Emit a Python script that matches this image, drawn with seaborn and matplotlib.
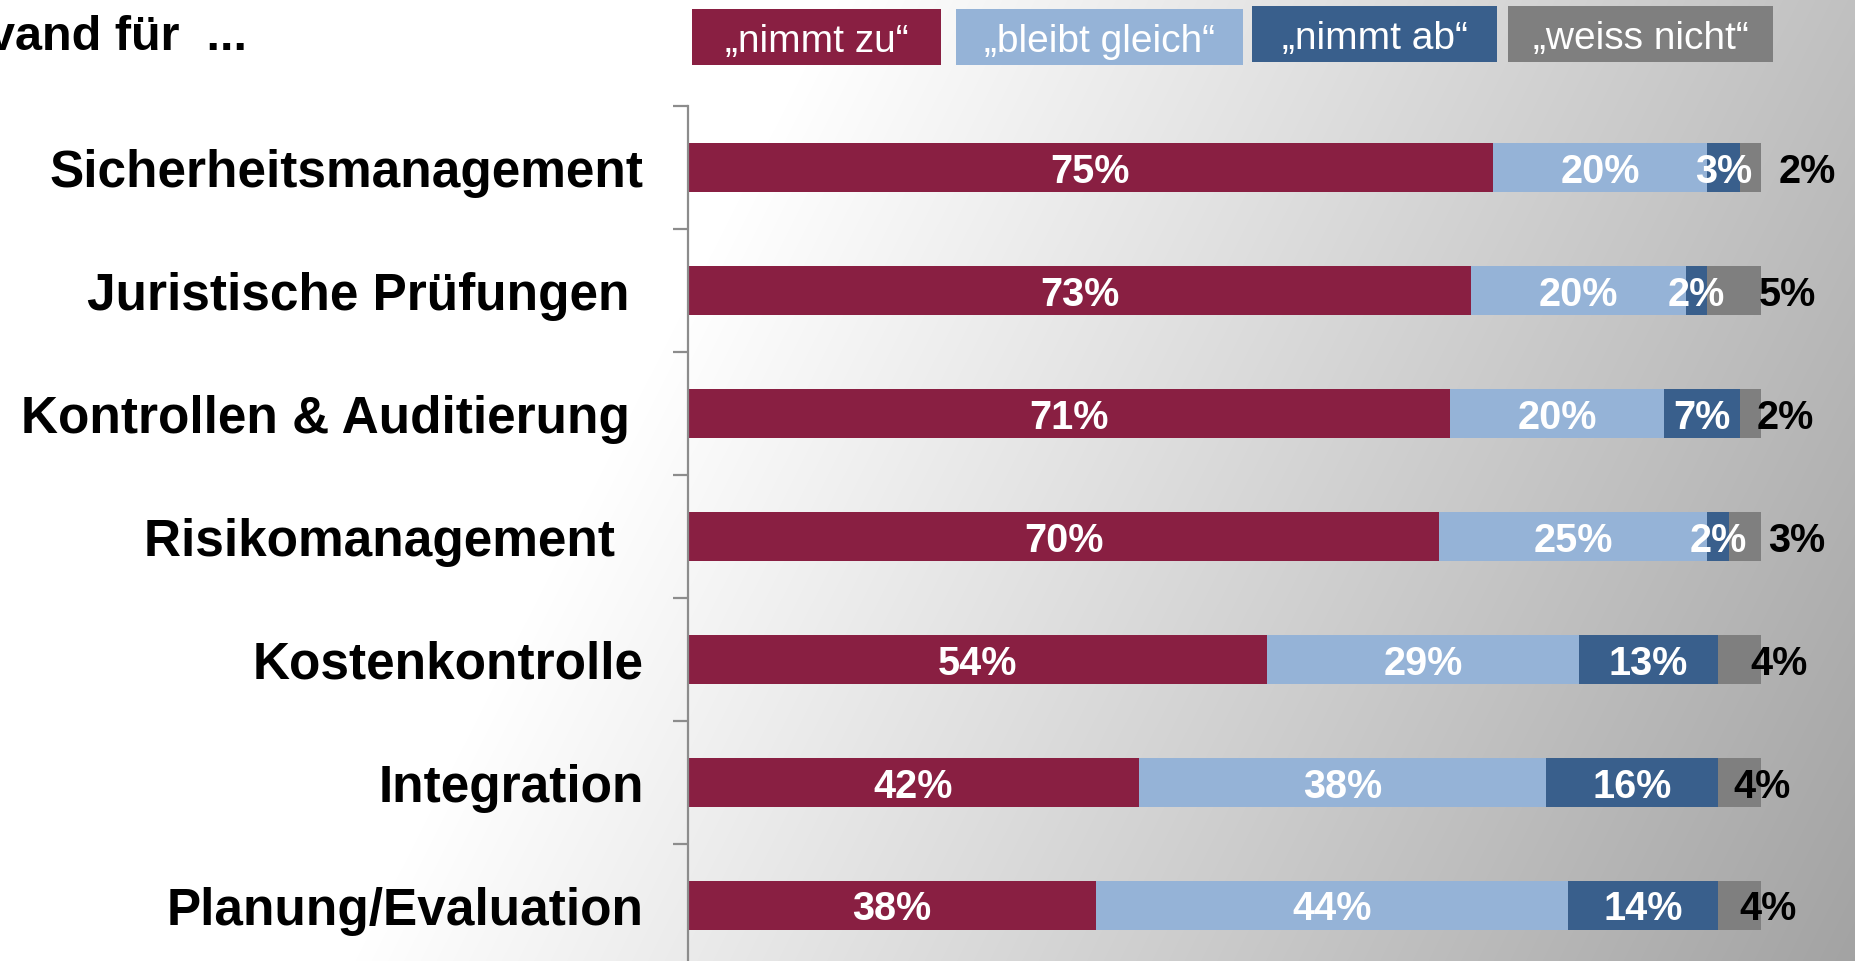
import numpy as np
import pandas as pd
import seaborn as sns
import matplotlib.pyplot as plt
from matplotlib.patches import Rectangle

# data
categories = ["Sicherheitsmanagement", "Juristische Prüfungen", "Kontrollen & Auditierung",
              "Risikomanagement", "Kostenkontrolle", "Integration", "Planung/Evaluation"]
tick_labels = ["Sicherheitsmanagement", "Juristische Prüfungen ", "Kontrollen & Auditierung ",
               "Risikomanagement  ", "Kostenkontrolle", "Integration", "Planung/Evaluation"]
nimmt_zu = [75, 73, 71, 70, 54, 42, 38]
bleibt_gleich = [20, 20, 20, 25, 29, 38, 44]
nimmt_ab = [3, 2, 7, 2, 13, 16, 14]
weiss_nicht = [2, 5, 2, 3, 4, 4, 4]
series_names = ["„nimmt zu“", "„bleibt gleich“", "„nimmt ab“", "„weiss nicht“"]

colors = ["#891F42", "#95B3D7", "#395F8C", "#7F7F7F"]
# where the "weiss nicht" labels sit, px right of the bar end
outside_offsets = [46, 26, 24, 36, 18, 1, 7]
# legend boxes in px: left, top, right, bottom
legend_boxes = [(692, 9, 941, 65), (956, 9, 1243, 65), (1252, 6, 1497, 62), (1508, 6, 1773, 62)]

W, H = 1856, 961
sns.set_theme(style="white")
plt.rcParams["font.family"] = ["Liberation Sans", "DejaVu Sans"]
plt.rcParams["text.color"] = "black"

fig = plt.figure(figsize=(W / 100, H / 100), dpi=100)

# diagonal grey background
bg = fig.add_axes([0, 0, 1, 1], zorder=0)
xx, yy = np.meshgrid(np.arange(W), np.arange(H))
dark = np.clip(0.0615 * xx + 0.031 * yy - 51.6, 0, None)
shade = (255 - dark) / 255
bg.imshow(np.dstack([shade] * 3), aspect="auto", extent=(0, W, H, 0))
bg.set_axis_off()

ax = fig.add_axes([688 / W, -6 / H, 1073 / W, 861 / H], zorder=1)
ax.patch.set_alpha(0)

parts = [nimmt_zu, bleibt_gleich, nimmt_ab, weiss_nicht]
cum = np.cumsum(parts, axis=0)
df = pd.DataFrame({"cat": categories})
for i in reversed(range(4)):
    df["val"] = cum[i]
    sns.barplot(data=df, x="val", y="cat", orient="h", color=colors[i], width=0.4,
                saturation=1, linewidth=0, ax=ax)

for i in range(3):
    for j in range(len(categories)):
        ax.text(cum[i][j] - parts[i][j] / 2, j, f"{parts[i][j]}%", ha="center",
                va="center_baseline", color="white", fontsize=28.5, fontweight="bold")
for j in range(len(categories)):
    ax.text(100 + outside_offsets[j] * 100 / 1073, j, f"{weiss_nicht[j]}%", ha="center",
            va="center_baseline", color="black", fontsize=28.5, fontweight="bold", clip_on=False)

ax.set_xlim(0, 100)
ax.set_ylim(6.5, -0.5)
ax.set_xticks([])
ax.set_xlabel("")
ax.set_ylabel("")
ax.set_yticks(range(len(categories)))
ax.set_yticklabels(tick_labels, fontsize=37, fontweight="bold", color="black")
ax.tick_params(axis="y", which="major", length=0, pad=31.7, left=True)
ax.set_yticks(np.arange(-0.5, 7, 1), minor=True)
ax.tick_params(axis="y", which="minor", length=10.8, width=1.6, color="#8c8c8c", left=True)
for s in ["top", "right", "bottom"]:
    ax.spines[s].set_visible(False)
ax.spines["left"].set_color("#8c8c8c")
ax.spines["left"].set_linewidth(1.6)

# legend as coloured boxes
for (l, t, r, b), c, name in zip(legend_boxes, colors, series_names):
    fig.patches.append(Rectangle((l / W, 1 - b / H), (r - l) / W, (b - t) / H,
                                 transform=fig.transFigure, facecolor=c, edgecolor="none", zorder=2))
    fig.text((l + r) / 2 / W, 1 - ((t + b) / 2 + 5) / H, name, ha="center", va="center",
             color="white", fontsize=28, zorder=3)

fig.text(-12 / W, 1 - 50 / H, "vand für  ...", ha="left", va="baseline", fontsize=35,
         fontweight="bold", color="black", zorder=3)

fig.savefig("out.png", dpi=100)
